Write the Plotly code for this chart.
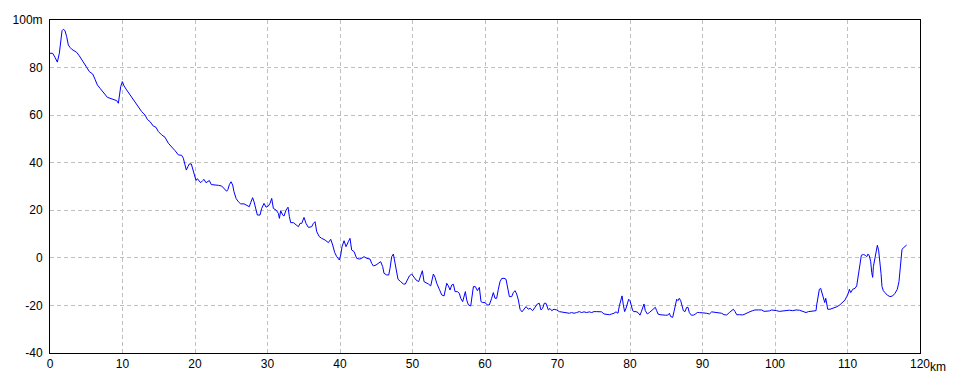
import plotly.graph_objects as go

distance_km = [
    0, 0.37, 0.69, 1.01, 1.29, 1.47, 1.66, 1.84, 2.07, 2.3, 2.53, 2.76, 2.99, 3.31, 3.68, 4.05, 4.37, 4.69,
    5.06, 5.43, 5.89, 6.21, 6.53, 6.9, 7.26, 7.59, 7.91, 8.28, 8.64, 8.97, 9.2, 9.43, 9.56, 9.75, 9.98,
    10.21, 10.57, 10.94, 11.26, 11.72, 12.18, 12.64, 13.1, 13.43, 13.79, 14.25, 14.62, 14.94, 15.4, 15.86,
    16.32, 16.78, 17.24, 17.7, 18.16, 18.39, 18.57, 18.8, 19.03, 19.22, 19.49, 19.68, 19.86, 20.14, 20.32,
    20.51, 20.78, 21.06, 21.24, 21.52, 21.79, 21.98, 22.25, 22.53, 22.9, 23.22, 23.68, 24.0, 24.37, 24.55,
    24.74, 24.97, 25.2, 25.38, 25.66, 25.98, 26.3, 26.76, 27.13, 27.49, 27.68, 27.95, 28.14, 28.37, 28.6,
    28.97, 29.2, 29.52, 29.8, 30.12, 30.35, 30.58, 30.81, 31.18, 31.5, 31.64, 31.82, 32.1, 32.28, 32.56,
    32.83, 33.02, 33.2, 33.57, 33.94, 34.26, 34.49, 34.72, 35.04, 35.31, 35.64, 36.1, 36.33, 36.56, 36.79,
    37.15, 37.48, 37.94, 38.4, 38.72, 38.99, 39.27, 39.55, 39.91, 40.1, 40.28, 40.56, 40.83, 41.15, 41.38,
    41.61, 41.94, 42.3, 42.67, 42.99, 43.31, 43.68, 44.14, 44.37, 44.6, 44.97, 45.29, 45.61, 45.89, 46.07,
    46.44, 46.72, 46.9, 47.13, 47.36, 47.54, 47.73, 48.0, 48.37, 48.74, 49.01, 49.29, 49.57, 49.89, 50.12,
    50.49, 50.85, 51.13, 51.36, 51.59, 51.87, 52.19, 52.51, 52.69, 52.88, 53.11, 53.34, 53.7, 54.03, 54.35,
    54.53, 54.72, 54.95, 55.18, 55.41, 55.64, 55.87, 56.19, 56.46, 56.65, 56.92, 57.11, 57.29, 57.48, 57.71,
    58.03, 58.16, 58.4, 58.67, 58.95, 59.22, 59.31, 59.45, 59.68, 60.0, 60.32, 60.6, 60.92, 61.15, 61.38,
    61.61, 61.84, 62.07, 62.3, 62.62, 62.9, 63.08, 63.36, 63.68, 63.91, 64.14, 64.37, 64.6, 64.83, 65.1,
    65.38, 65.66, 65.98, 66.21, 66.57, 66.9, 67.22, 67.49, 67.72, 67.95, 68.18, 68.41, 68.74, 68.97, 69.2,
    69.52, 69.89, 70.25, 70.71, 71.17, 71.63, 71.95, 72.28, 72.64, 73.01, 73.33, 73.65, 74.02, 74.39, 74.71,
    75.03, 75.4, 75.77, 76.09, 76.41, 76.78, 77.15, 77.47, 77.79, 78.07, 78.34, 78.53, 78.71, 78.9, 79.08,
    79.26, 79.45, 79.63, 79.82, 80.0, 80.18, 80.37, 80.55, 80.83, 81.1, 81.38, 81.56, 81.75, 81.93, 82.11,
    82.39, 82.67, 82.94, 83.22, 83.49, 83.68, 83.86, 84.14, 84.5, 84.87, 85.2, 85.43, 85.61, 85.89, 86.07,
    86.25, 86.44, 86.62, 86.8, 86.99, 87.17, 87.36, 87.59, 87.82, 88.0, 88.18, 88.46, 88.74, 89.01, 89.29,
    89.56, 89.66, 90.12, 90.58, 90.95, 91.27, 91.73, 92.19, 92.65, 92.97, 93.34, 93.7, 94.03, 94.26, 94.49,
    94.72, 95.08, 95.55, 95.87, 96.19, 96.56, 96.92, 97.25, 97.71, 98.17, 98.49, 98.86, 99.22, 99.54, 99.87,
    100.23, 100.6, 101.06, 101.52, 101.98, 102.44, 102.9, 103.36, 103.73, 104.0, 104.28, 104.6, 104.92,
    105.29, 105.66, 105.75, 105.94, 106.12, 106.3, 106.44, 106.67, 106.86, 107.0, 107.13, 107.27, 107.59,
    107.96, 108.28, 108.6, 108.97, 109.34, 109.66, 109.89, 110.12, 110.26, 110.44, 110.72, 111.04, 111.27,
    111.5, 111.73, 111.91, 112.19, 112.46, 112.65, 112.83, 113.02, 113.2, 113.34, 113.47, 113.57, 113.75,
    113.93, 114.12, 114.3, 114.48, 114.62, 114.76, 114.94, 115.17, 115.5, 115.87, 116.23, 116.55, 116.87,
    117.1, 117.24, 117.38, 117.52, 117.79, 118.16,
]

elevation_m = [
    86.0, 86.0, 84.3, 82.3, 86.0, 90.2, 95.5, 96.1, 95.5, 93.0, 89.5, 88.5, 87.7, 87.1, 86.4, 84.9, 83.5, 82.1,
    80.1, 78.3, 77.3, 75.1, 72.7, 71.3, 69.9, 68.5, 67.5, 67.1, 66.7, 66.4, 66.1, 65.0, 67.8, 72.0, 74.1,
    72.3, 70.6, 68.9, 67.5, 65.7, 63.3, 61.5, 60.1, 58.2, 57.3, 55.4, 54.9, 53.1, 51.7, 50.7,
    48.2, 46.8, 45.1, 43.3, 43.1, 41.9, 39.5, 36.9, 38.4, 39.5, 39.5, 37.6, 34.8, 32.5, 33.3,
    32.7, 31.6, 32.5, 33.0, 31.6, 32.2, 32.5, 30.8, 30.8, 30.5, 30.5, 30.2, 29.1, 28.0, 28.8,
    30.8, 32.0, 30.6, 27.8, 25.0, 23.6, 22.7, 22.7, 22.1, 21.5, 23.2, 25.3, 23.6, 20.1, 18.0,
    18.0, 20.8, 22.9, 21.3, 21.8, 22.9, 25.0, 20.8, 20.1, 18.7, 16.6, 19.8, 18.0, 17.6, 20.1,
    21.3, 17.3, 14.8, 14.8, 13.8, 13.1, 14.5, 14.5, 17.0, 14.5, 12.8, 13.1, 14.5, 15.2, 11.0,
    8.9, 8.2, 7.5, 6.4, 7.8, 5.4, 2.2, 0.5, -0.9, 1.2, 4.7, 7.2, 4.7, 6.8, 8.2,
    3.3, 2.6, -0.2, -0.5, -0.2, 0.5, -0.2, -0.5, -2.3, -3.4, -3.0, -2.3, -1.6, -3.7, -6.5,
    -7.2, -7.2, -4.4, 0.5, 1.6, -1.6, -5.8, -9.0, -10.0, -11.0, -11.0, -9.3, -7.6, -6.8, -7.9,
    -9.3, -10.0, -7.9, -5.4, -10.0, -10.4, -11.0, -11.8, -9.0, -6.8, -8.2, -10.7, -13.2, -15.6, -16.0,
    -13.2, -10.7, -11.8, -13.5, -11.4, -11.1, -14.2, -14.2, -14.9, -17.0, -18.4, -16.3, -14.2, -17.7, -19.8,
    -20.2, -17.7, -12.1, -12.1, -13.8, -12.4, -14.9, -18.4, -18.8, -18.8, -19.8, -19.8, -17.0, -14.6, -17.0,
    -17.0, -13.2, -10.0, -8.7, -8.6, -9.0, -11.4, -16.3, -16.3, -14.6, -13.8, -15.2, -17.7, -21.6, -22.7,
    -21.6, -20.5, -21.6, -21.2, -22.2, -20.8, -19.4, -19.1, -21.9, -21.2, -19.1, -19.1, -21.9, -21.3, -22.2,
    -21.6, -21.9, -22.6, -22.9, -23.0, -23.3, -23.0, -23.3, -23.0, -22.6, -23.0, -22.7, -23.0, -22.7, -23.0,
    -22.6, -22.6, -22.5, -22.7, -23.6, -23.7, -23.9, -23.6, -23.3, -22.7, -23.3, -20.2, -17.7, -16.0, -19.8,
    -22.6, -21.2, -19.4, -17.4, -18.0, -19.8, -22.2, -22.6, -22.6, -23.0, -24.1, -22.7, -21.2, -19.4, -22.2,
    -23.6, -23.0, -22.2, -21.6, -20.8, -22.2, -23.6, -23.9, -24.1, -24.1, -24.1, -23.3, -24.7, -25.0, -22.6,
    -19.8, -17.4, -18.0, -17.0, -18.0, -20.5, -22.2, -22.6, -20.8, -20.8, -23.0, -24.1, -24.1, -23.6, -23.0,
    -23.0, -23.0, -23.3, -23.3, -23.6, -22.7, -22.9, -23.0, -23.3, -23.9, -24.0, -23.0, -22.2, -21.6, -22.6,
    -23.9, -23.9, -24.0, -23.6, -23.0, -22.6, -22.2, -21.9, -21.9, -21.9, -22.5, -22.5, -22.3, -21.9, -21.9,
    -22.2, -22.5, -22.3, -22.3, -22.0, -22.2, -21.9, -22.0, -22.3, -22.5, -23.0, -22.6, -22.5,
    -22.2, -22.2, -19.8, -15.6, -13.2, -12.8, -14.6, -17.0, -18.8, -17.0, -19.8, -21.6, -21.6,
    -21.3, -20.8, -20.5, -19.7, -18.4, -17.7, -16.3, -14.9, -13.2, -14.6, -13.2, -12.8, -11.8,
    -6.5, -0.9, 1.1, 1.4, 1.1, 0.5, 1.6, 0.8, -1.6, -6.2, -8.2, -3.7, -0.9,
    2.6, 5.3, 3.0, -1.6, -6.5, -12.1, -13.8, -14.6, -15.7, -16.3, -16.0, -14.9, -13.2,
    -10.0, -5.1, -0.2, 3.6, 4.4, 5.4,
]

x_tick_vals = [0, 10, 20, 30, 40, 50, 60, 70, 80, 90, 100, 110, 120]
x_tick_text = ["0", "10", "20", "30", "40", "50", "60", "70", "80", "90", "100", "110", "120"]
y_tick_vals = [-40, -20, 0, 20, 40, 60, 80, 100]
y_tick_text = ["-40", "-20", "0", "20", "40", "60", "80", "100m"]

FONT = dict(family="Liberation Sans, Arial, sans-serif", size=12, color="#000000")

fig = go.Figure()
fig.add_trace(go.Scatter(
    x=distance_km, y=elevation_m, mode="lines",
    line=dict(color="#0000ff", width=1), hoverinfo="skip", showlegend=False,
))

axis_common = dict(
    showline=True, linecolor="#000000", linewidth=1, mirror=True,
    showgrid=True, gridcolor="#c0c0c0", gridwidth=1, griddash="4px,3px",
    zeroline=False, ticks="", tickfont=FONT, fixedrange=True,
)
fig.update_xaxes(range=[0, 120], tickmode="array", tickvals=x_tick_vals, ticktext=x_tick_text,
                 ticklabelstandoff=0, **axis_common)
fig.update_yaxes(range=[-40, 100], tickmode="array", tickvals=y_tick_vals, ticktext=y_tick_text,
                 ticklabelstandoff=4, **axis_common)

fig.add_annotation(
    x=120, y=0, xref="x", yref="paper", text="km", showarrow=False,
    xanchor="left", yanchor="top", xshift=8, yshift=-5, font=FONT,
)

fig.update_layout(
    width=960, height=384,
    margin=dict(l=50, r=40, t=20, b=31),
    paper_bgcolor="#ffffff", plot_bgcolor="#ffffff",
    font=FONT,
)

fig.write_html("out.html")
